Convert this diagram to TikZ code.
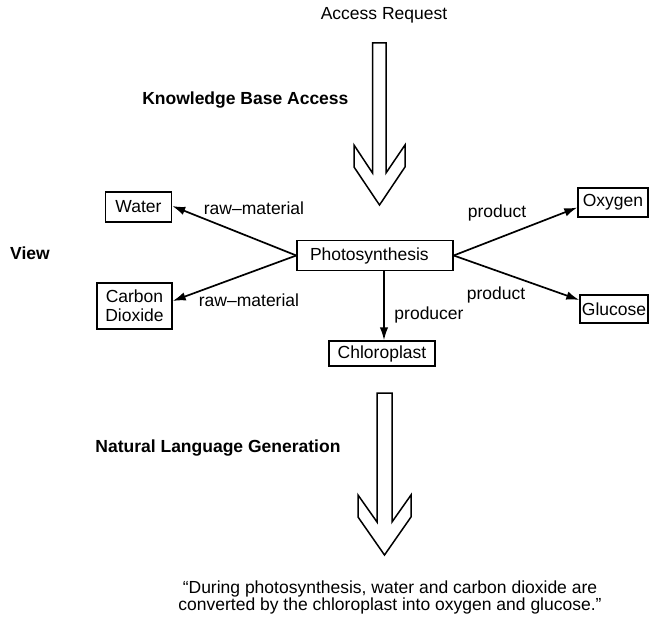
\documentclass[tikz,border=0pt]{standalone}
\usepackage{fontspec}
\setmainfont{Liberation Sans}
\usetikzlibrary{arrows.meta,calc}
\newcommand\quotefont{\fontsize{17.5}{17.5}\selectfont\lineskiplimit=-20pt\relax}
\begin{document}
\begin{tikzpicture}[x=1pt,y=-1pt,
  every node/.style={font=\fontsize{17.5}{19}\selectfont},
  concept/.style={draw,line width=1.4pt,inner sep=0pt,align=center},
  caption/.style={font=\fontsize{17.5}{19}\selectfont\bfseries},
  rel/.style={line width=1.7pt,-{Latex[length=13pt,width=8.5pt]}},
  bigarrow/.style={line width=1.5pt,line join=miter}]
\useasboundingbox (0,0) rectangle (649,623);

% concept nodes of the semantic network
\node[concept,minimum width=66pt,minimum height=30pt] (wa) at (138.5,207) {Water};
\node[concept,minimum width=75pt,minimum height=46pt] (cd) at (134.5,306) {Carbon\\Dioxide};
\node[concept,minimum height=30pt,text width=130pt,inner xsep=13pt,align=left] (ph) at (375,255.5) {Photosynthesis};
\node[concept,minimum width=106pt,minimum height=25pt] (cl) at (382,353.5) {Chloroplast};
\node[concept,minimum width=70pt,minimum height=29pt] (ox) at (613,202.5) {Oxygen};
\node[concept,minimum width=68pt,minimum height=28pt] (gl) at (614,309) {Glucose};
\coordinate (clin) at ($(cl.north)+(2,0)$);

% relations
\draw[rel] (ph.west) -- ($(wa.east)+(0,-1)$);
\draw[rel] (ph.west) -- ($(cd.east)+(0,-5)$);
\draw[rel] (ph.east) -- ($(ox.west)+(0,5)$);
\draw[rel] (ph.east) -- ($(gl.west)+(0,-9)$);
\draw[rel] (ph.south -| clin) -- (clin);

\node (l1) at (254,208) {raw–material};
\node (l2) at (249,300) {raw–material};
\node (l3) at (497,213) {product};
\node (l4) at (496,295) {product};
\node (l5) at (429,315) {producer};

% process stages
\node (req) at (384,15) {Access Request};
\node[caption,anchor=east] (kba) at (352,100) {Knowledge Base Access};
\node[caption] (view) at (30,253) {View};
\node[caption,anchor=east] (nlg) at (344,448) {Natural Language Generation};
\node[align=center,font=\quotefont] (sent) at (390,597.5)
  {“During photosynthesis, water and carbon dioxide are\\converted by the chloroplast into oxygen and glucose.”};

% hollow block arrows
\draw[bigarrow] (372.5,43) -- (372.5,173) -- (354,145) -- (354,167) -- (379.5,205)
  -- (405,167) -- (405,145) -- (386,173) -- (386,43) -- cycle;
\draw[bigarrow] (377,393) -- (377,522) -- (358,495) -- (358,517) -- (384.5,555)
  -- (411,517) -- (411,495) -- (392,522) -- (392,393) -- cycle;
\end{tikzpicture}
\end{document}
